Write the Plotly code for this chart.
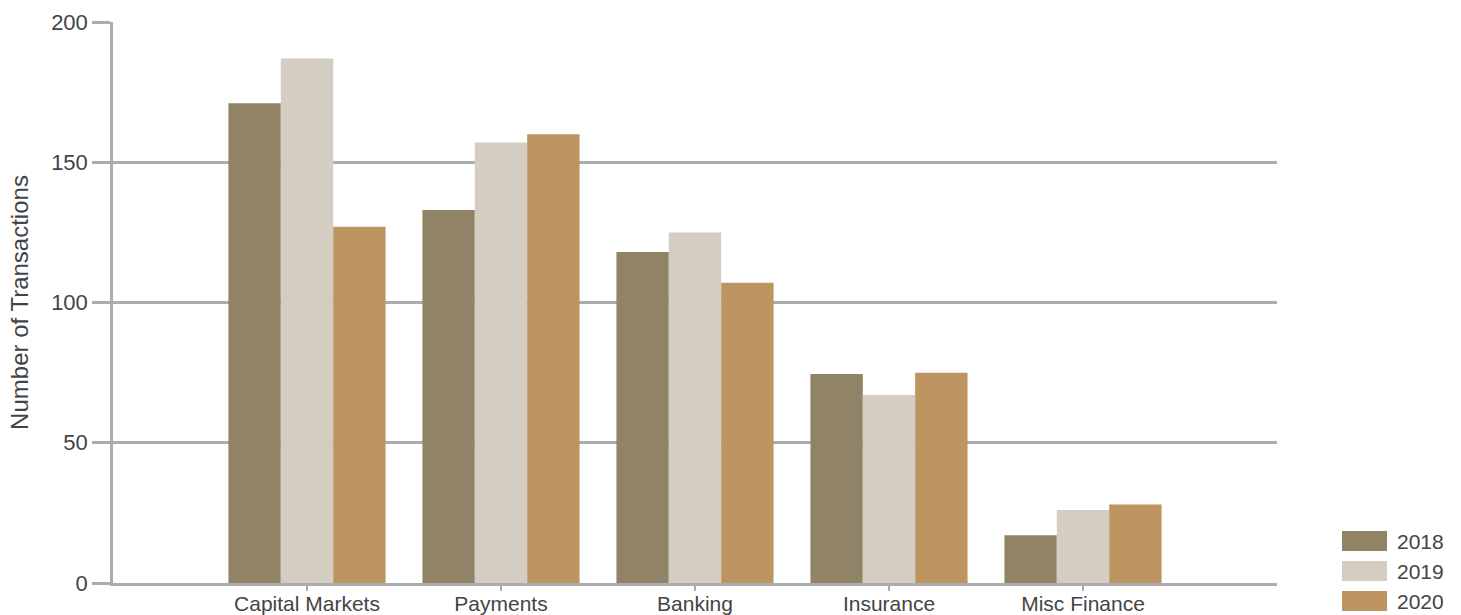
import plotly.graph_objects as go

categories = ["Capital Markets", "Payments", "Banking", "Insurance", "Misc Finance"]
years = ["2018", "2019", "2020"]
values_2018 = [171, 133, 118, 74.5, 17]
values_2019 = [187, 157, 125, 67, 26]
values_2020 = [127, 160, 107, 75, 28]
colors = ["#918366", "#d4cdc1", "#be9460"]
y_ticks = [0, 50, 100, 150, 200]

series = [values_2018, values_2019, values_2020]
positions = list(range(len(categories)))

W, H = 1461, 615
ML, MR, MT, MB = 113, 184, 22, 32
GRID = "#abacb0"
TXT = "#444444"
FONT = "Liberation Sans, Arial, sans-serif"

fig = go.Figure()
for name, vals, col in zip(years, series, colors):
    fig.add_trace(go.Bar(x=positions, y=vals, name=name, marker=dict(color=col, line=dict(width=0)),
                         showlegend=False))

# custom legend
pw = W - ML - MR
ph = H - MT - MB
shapes = []
annotations = []
for i, (name, col) in enumerate(zip(years, colors)):
    top_px = 531 + i * 30
    x0 = (1342 - ML) / pw
    x1 = (1387 - ML) / pw
    y0 = (H - MB - (top_px + 20)) / ph
    y1 = (H - MB - top_px) / ph
    shapes.append(dict(type="rect", xref="paper", yref="paper", x0=x0, x1=x1, y0=y0, y1=y1,
                       fillcolor=col, line=dict(width=0), layer="above"))
    annotations.append(dict(xref="paper", yref="paper", x=(1395 - ML) / pw, y=(y0 + y1) / 2,
                            text=name, showarrow=False, xanchor="left", yanchor="middle",
                            font=dict(size=21, color=TXT, family=FONT)))

fig.update_layout(
    width=W, height=H,
    margin=dict(l=ML, r=MR, t=MT, b=MB, pad=0, autoexpand=False),
    paper_bgcolor="white", plot_bgcolor="white",
    barmode="group", bargap=0.19, bargroupgap=0,
    font=dict(family=FONT, color=TXT, size=21),
    shapes=shapes, annotations=annotations,
    xaxis=dict(range=[-1, 5], tickmode="array", tickvals=positions, ticktext=categories,
               showgrid=False, zeroline=False, showline=True, linecolor=GRID, linewidth=2.5,
               ticks="outside", ticklen=5, tickwidth=2, tickcolor=GRID, automargin=False,
               ticklabelstandoff=-5,
               tickfont=dict(size=21, color=TXT, family=FONT), fixedrange=True),
    yaxis=dict(range=[0, 200], tickmode="array", tickvals=y_ticks,
               showgrid=True, gridcolor=GRID, gridwidth=2.5, zeroline=False,
               showline=True, linecolor=GRID, linewidth=2.5, automargin=False,
               ticks="outside", ticklen=18, tickwidth=2.5, tickcolor=GRID,
               tickfont=dict(size=22, color=TXT, family=FONT),
               title=dict(text="Number of Transactions", font=dict(size=24, color=TXT, family=FONT), standoff=16)),
)

fig.write_html("out.html")
